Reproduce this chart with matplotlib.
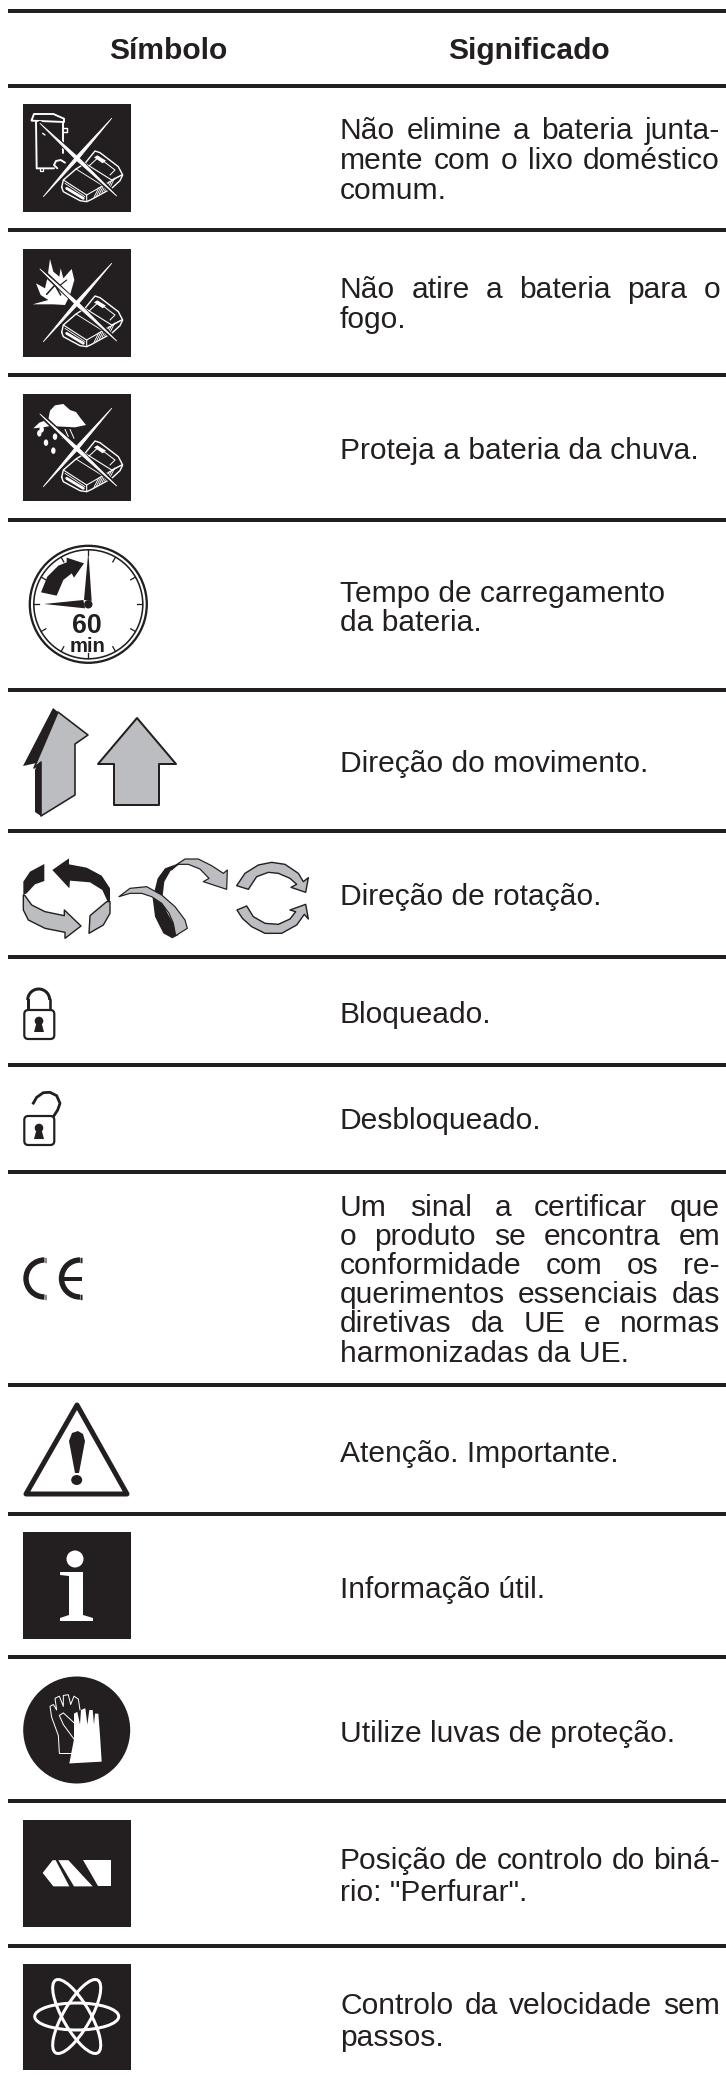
import matplotlib
matplotlib.use("Agg")
import matplotlib.pyplot as plt
from matplotlib.patches import Polygon, Ellipse, Arc, Rectangle, FancyBboxPatch, Circle

# table of symbols from a battery tool manual, everything drawn in pixel coords
INK = "#231f20"
GREY = "#bcbdc0"
PX = 0.72  # px to pt at dpi 100

headers = ["Símbolo", "Significado"]
symbols = ["no_trash", "no_fire", "no_rain", "clock", "arrows", "rotation", "locked",
           "unlocked", "ce", "warning", "info", "gloves", "drill", "speed"]
meanings = [
    ["Não elimine a bateria junta-", "mente com o lixo doméstico", "comum."],
    ["Não atire a bateria para o", "fogo."],
    ["Proteja a bateria da chuva."],
    ["Tempo de carregamento", "da bateria."],
    ["Direção do movimento."],
    ["Direção de rotação."],
    ["Bloqueado."],
    ["Desbloqueado."],
    ["Um sinal a certificar que", "o produto se encontra em", "conformidade com os re-",
     "querimentos essenciais das", "diretivas da UE e normas", "harmonizadas da UE."],
    ["Atenção. Importante."],
    ["Informação útil."],
    ["Utilize luvas de proteção."],
    ["Posição de controlo do biná-", "rio: \"Perfurar\"."],
    ["Controlo da velocidade sem", "passos."],
]
# which lines are set justified, by (row, line)
justified = {(0, 0), (0, 1), (1, 0), (8, 0), (8, 1), (8, 2), (8, 3), (8, 4), (12, 0), (13, 0)}

# layout
rule_y = [11, 86, 230, 375, 520, 690, 831, 957, 1065, 1172, 1385, 1514, 1657, 1801, 1946]
baselines = [[139, 169, 199], [298, 328], [459], [602, 631], [772], [905], [1023], [1129],
             [1216, 1245, 1274, 1303, 1332, 1362], [1462], [1598], [1742], [1869, 1901], [2014, 2046]]
text_left, text_right = 340, 720
font = "Liberation Sans"
body_size = 21.6

fig = plt.figure(figsize=(7.26, 20.83), dpi=100)
ax = fig.add_axes([0, 0, 1, 1])
ax.set_xlim(0, 726)
ax.set_ylim(2083, 0)
ax.axis("off")
renderer = fig.canvas.get_renderer()


def poly(pts, x0=0, y0=0, sx=1 / 3, sy=1 / 3, fc=INK, ec="none", lw=0, z=3, closed=True):
    pp = [(x0 + x * sx, y0 + y * sy) for x, y in pts]
    ax.add_patch(Polygon(pp, closed=closed, facecolor=fc, edgecolor=ec, linewidth=lw * PX,
                         joinstyle="round", zorder=z))


def stroke(pts, x0=0, y0=0, sx=1 / 3, sy=1 / 3, c="white", lw=1.0, z=4, cap="round"):
    xs = [x0 + p[0] * sx for p in pts]
    ys = [y0 + p[1] * sy for p in pts]
    ax.plot(xs, ys, color=c, lw=lw * PX, solid_capstyle=cap, solid_joinstyle="round", zorder=z)


def box(top, bottom):
    ax.add_patch(Rectangle((23, top), 108, bottom - top, facecolor=INK, edgecolor="none", zorder=2))


def battery(x0, y0):
    outer = [(125, 262), (130, 240), (168, 207), (195, 190), (225, 153), (240, 158), (295, 200),
             (308, 225), (300, 242), (275, 265), (215, 298), (200, 305), (180, 302), (130, 275)]
    stroke(outer + outer[:1], x0, y0, lw=1.4, z=4)
    stroke([(130, 240), (200, 285), (200, 305)], x0, y0, lw=1.1)
    stroke([(135, 250), (195, 290)], x0, y0, lw=0.8)
    stroke([(200, 285), (305, 225)], x0, y0, lw=1.1)
    stroke([(195, 190), (275, 240), (305, 225)], x0, y0, lw=1.1)
    stroke([(205, 200), (235, 172), (285, 210), (270, 225)], x0, y0, lw=1.0)
    stroke([(168, 207), (245, 255)], x0, y0, lw=0.9)
    poly([(222, 172), (232, 166), (258, 182), (248, 190)], x0, y0, fc="white", z=4)
    stroke([(140, 265), (190, 295)], x0, y0, lw=2.8)
    for k in range(7):
        stroke([(222 + k * 8, 292 - k * 5), (236 + k * 8, 264 - k * 5)], x0, y0, lw=0.9)


def cross(x0, y0, a, b):
    # x strokes taper to a point at the ends, with a dark edge around them
    for (x1, y1), (x2, y2) in (a, b):
        mx, my = (x1 + x2) / 2, (y1 + y2) / 2
        ln = ((x2 - x1) ** 2 + (y2 - y1) ** 2) ** 0.5
        nx, ny = -(y2 - y1) / ln, (x2 - x1) / ln
        w = 5.0
        stroke([(x1, y1), (x2, y2)], x0, y0, c=INK, lw=5.0, z=5)
        poly([(x1, y1), (mx + nx * w, my + ny * w), (x2, y2), (mx - nx * w, my - ny * w)],
             x0, y0, fc="white", ec="white", lw=0.8, z=6)


def no_trash():
    x0, y0 = 20, 100
    box(104, 212)
    battery(x0, y0)
    stroke([(35, 60), (42, 42), (100, 42), (132, 56), (132, 66), (35, 62), (35, 60)], x0, y0, lw=1.9)
    stroke([(48, 65), (50, 205), (102, 205)], x0, y0, lw=1.9)
    stroke([(130, 66), (130, 158)], x0, y0, lw=1.9)
    stroke([(130, 85), (142, 85), (142, 97), (130, 97)], x0, y0, lw=1.4)
    stroke([(112, 205), (102, 195), (108, 183), (122, 180), (135, 188)], x0, y0, lw=1.9)
    stroke([(60, 205), (60, 213), (68, 213), (68, 205)], x0, y0, lw=1.2)
    stroke([(68, 100), (75, 105)], x0, y0, lw=1.4)
    cross(x0, y0, [(275, 55), (70, 290)], [(60, 70), (290, 288)])


def no_fire():
    x0, y0 = 20, 245
    box(249, 357)
    battery(x0, y0)
    flame = [(38, 178), (85, 165), (62, 150), (48, 115), (75, 130), (82, 100), (90, 42), (100, 80), (118, 95),
             (122, 70), (130, 100), (155, 72), (163, 105), (150, 150), (135, 180), (100, 178)]
    poly(flame, x0, y0, fc="white", z=3)
    stroke([(80, 148), (105, 120), (122, 150)], x0, y0, c=INK, lw=1.6)
    stroke([(115, 125), (140, 105)], x0, y0, c=INK, lw=1.2)
    cross(x0, y0, [(275, 55), (70, 290)], [(60, 72), (290, 288)])


def no_rain():
    x0, y0 = 20, 390
    box(394, 501)
    battery(x0, y0)
    cloud = [(40, 115), (58, 98), (85, 88), (90, 62), (105, 46), (130, 42), (150, 60), (168, 66),
             (182, 85), (198, 105), (165, 112), (90, 108), (70, 112)]
    poly(cloud, x0, y0, fc="white", z=3)
    for dx, dy in [(58, 130), (78, 158), (100, 182), (65, 118), (105, 140)]:
        ax.add_patch(Ellipse((x0 + dx / 3, y0 + dy / 3), 3, 5, color="white", zorder=4))
    for a, b in [((135, 118), (145, 140)), ((150, 118), (162, 145)), ((120, 125), (128, 145))]:
        stroke([a, b], x0, y0, lw=1)
    cross(x0, y0, [(275, 55), (70, 290)], [(60, 72), (290, 288)])


def clock():
    cx, cy = 88.3, 604.3
    ax.add_patch(Circle((cx, cy), 58.5, fc="none", ec=INK, lw=2.3 * PX, zorder=3))
    ax.add_patch(Circle((cx, cy), 54.5, fc="none", ec=INK, lw=1.6 * PX, zorder=3))
    ticks = [(0, -1), (.5, -.866), (.866, -.5), (1, 0), (.866, .5), (.5, .866),
             (0, 1), (-.5, .866), (-.866, .5), (-1, 0), (-.866, -.5), (-.5, -.866)]
    for tx, ty in ticks:
        ax.plot([cx + 54 * tx, cx + 49 * tx], [cy + 54 * ty, cy + 49 * ty], color=INK, lw=1.3 * PX, zorder=3)
    x0, y0 = 20, 535
    poly([(205, 50), (215, 198), (192, 195)], x0, y0)
    poly([(72, 207), (190, 195), (195, 220)], x0, y0)
    ax.add_patch(Circle((cx, cy), 4.2, fc=INK, ec="none", zorder=4))
    poly([(63, 172), (82, 125), (115, 92), (140, 82), (140, 68), (192, 85), (162, 128), (155, 115),
          (130, 135), (110, 182)], x0, y0)
    ax.text(cx - 1, 633, "60", ha="center", va="baseline", fontsize=19.3, fontweight="bold",
            family=font, color=INK, zorder=5)
    ax.text(cx - 1, 652, "min", ha="center", va="baseline", fontsize=14.6, fontweight="bold",
            family=font, color=INK, zorder=5)


def arrows():
    poly([(23, 766), (53, 708), (58, 712), (35, 770), (35, 812), (41, 816), (41, 762)], sx=1, sy=1)
    poly([(58, 712), (88, 735), (75, 744), (75, 795), (41, 816), (41, 762), (34, 768)],
         sx=1, sy=1, fc=GREY, ec=INK, lw=1.6)
    poly([(137, 718), (176, 764), (159, 764), (159, 805), (114, 805), (114, 764), (98, 764)],
         sx=1, sy=1, fc=GREY, ec=INK, lw=2)


def rotation():
    kw = dict(x0=15, y0=845)
    poly([(112, 75), (162, 40), (162, 58), (215, 68), (260, 92), (285, 130), (285, 170), (278, 170),
          (262, 135), (225, 112), (165, 107), (163, 130)], **kw)
    poly([(88, 57), (88, 108), (60, 118), (35, 145), (25, 150), (25, 110), (45, 80)], **kw)
    poly([(30, 152), (50, 180), (90, 200), (148, 212), (148, 195), (198, 243), (150, 280), (150, 262),
          (90, 250), (40, 225), (25, 195), (25, 150)], fc=GREY, ec=INK, lw=1.4, **kw)
    poly([(225, 212), (275, 170), (285, 170), (285, 205), (265, 240), (222, 265)], fc=GREY, ec=INK, lw=1.4, **kw)
    poly([(482, 58), (450, 70), (428, 100), (413, 160), (420, 215), (445, 265), (472, 280), (490, 270),
          (475, 235), (455, 200), (442, 160), (448, 110), (468, 75)], **kw)
    poly([(312, 155), (345, 130), (395, 125), (440, 150), (480, 185), (510, 225), (517, 250), (482, 272),
          (475, 235), (462, 205), (440, 175), (410, 155), (380, 145), (345, 145)], fc=GREY, ec=INK, lw=1.2, **kw)
    poly([(480, 62), (510, 42), (550, 42), (590, 62), (625, 85), (637, 75), (635, 133), (565, 110), (582, 100),
          (555, 72), (520, 58), (490, 58), (468, 75)], fc=GREY, ec=INK, lw=1.2, **kw)
    poly([(665, 122), (690, 85), (730, 60), (770, 52), (810, 58), (850, 85), (865, 110), (880, 98), (872, 142),
          (828, 127), (845, 118), (825, 100), (790, 85), (760, 82), (725, 95), (700, 133)],
         fc=GREY, ec=INK, lw=1.4, **kw)
    poly([(666, 195), (695, 183), (715, 215), (750, 235), (790, 238), (825, 222), (842, 200), (825, 195),
          (872, 178), (880, 222), (868, 208), (845, 240), (800, 265), (750, 265), (710, 245), (682, 220)],
         fc=GREY, ec=INK, lw=1.4, **kw)


def keyhole(cx, cy, bottom):
    ax.add_patch(Circle((cx, cy), 4.3, fc=INK, ec="none", zorder=4))
    poly([(cx - 2, cy), (cx + 2, cy), (cx + 5, bottom), (cx - 5, bottom)], sx=1, sy=1, z=4)


def lock_body(top, bottom):
    ax.add_patch(FancyBboxPatch((24.3, top + 1), 30, bottom - top - 2, boxstyle="round,pad=0,rounding_size=4",
                                fc="white", ec=INK, lw=2.2 * PX, zorder=3))


def locked():
    ax.plot([27.7, 27.7], [1010, 1000], color=INK, lw=3.0 * PX, zorder=3)
    ax.plot([49.7, 49.7], [1010, 1000], color=INK, lw=2.6 * PX, zorder=3)
    ax.add_patch(Arc((38.7, 1000), 22, 22, theta1=180, theta2=360, ec=INK, lw=3.0 * PX, zorder=3))
    lock_body(1009, 1040)
    keyhole(39, 1021, 1032)


def unlocked():
    stroke([(53, 388), (65, 367), (85, 353), (105, 352), (125, 362), (135, 385), (128, 405), (115, 425)],
           15, 975, c=INK, lw=2.8, z=3, cap="butt")
    lock_body(1115, 1146)
    keyhole(39, 1128, 1139)


def ce():
    top, bottom = 1260, 1297
    for cx, end in [(44.5, 46), (80, 82)]:
        ax.add_patch(Arc((cx, 1278.5), 37, 37, theta1=90, theta2=270, ec=INK, lw=5.4 * PX, zorder=3))
        ax.plot([cx, end], [top, top], color=INK, lw=5.4 * PX, zorder=3, solid_capstyle="butt")
        ax.plot([cx, end], [bottom, bottom], color=INK, lw=5.4 * PX, zorder=3, solid_capstyle="butt")
    ax.plot([62, 82], [1278.5, 1278.5], color=INK, lw=4 * PX, zorder=3, solid_capstyle="butt")


def warning():
    poly([(77, 1405), (127, 1494), (26, 1494)], sx=1, sy=1, fc="white", ec=INK, lw=5, z=3)
    poly([(69, 1441), (72, 1433), (78, 1431), (83, 1434), (85, 1441), (79, 1473), (75, 1473)], sx=1, sy=1, z=4)
    ax.add_patch(Ellipse((76.7, 1480), 11, 10, fc=INK, ec="none", zorder=4))


def info():
    box(1532, 1639)
    ax.add_patch(Ellipse((75, 1559), 17, 17, fc="white", ec="none", zorder=4))
    poly([(60, 1572), (83, 1572), (83, 1615), (93, 1618), (93, 1621), (60, 1621), (60, 1618),
          (69, 1615), (69, 1576), (60, 1575)], sx=1, sy=1, fc="white", z=4)


def gloves():
    ax.add_patch(Ellipse((76.7, 1730), 107, 107, fc=INK, ec="none", zorder=2))
    x0, y0 = 0, 1510
    sy = 1 / 2.75
    outline = [(178, 668), (175, 620), (155, 570), (150, 540), (160, 535), (170, 550), (165, 518), (178, 512),
               (190, 540), (190, 510), (205, 508), (212, 535), (222, 512), (235, 520), (240, 550)]
    stroke(outline, x0, y0, sy=sy, lw=1)
    stroke([(178, 668), (215, 668)], x0, y0, sy=sy, lw=1)
    stroke([(222, 630), (190, 590), (178, 565), (190, 558), (222, 585)], x0, y0, sy=sy, lw=1)
    white = [(208, 697), (222, 630), (222, 560), (232, 555), (240, 590), (243, 550), (256, 545), (262, 590),
             (268, 550), (278, 550), (282, 590), (285, 560), (295, 560), (300, 620), (305, 692)]
    poly(white, x0, y0, sy=sy, fc="white", z=4)


def drill():
    box(1820, 1927)
    sy = 1 / 2.75
    poly([(128, 998), (158, 963), (167, 963), (208, 1035), (160, 1035)], 0, 1510, sy=sy, fc="white", z=4)
    poly([(175, 963), (205, 963), (278, 1035), (222, 1035)], 0, 1510, sy=sy, fc="white", z=4)
    poly([(250, 963), (333, 963), (333, 1035), (295, 1035)], 0, 1510, sy=sy, fc="white", z=4)


def speed():
    box(1964, 2070)
    for ang in [0, 60, 120]:
        ax.add_patch(Ellipse((76.7, 2016.5), 84, 27, angle=ang, fc="none", ec="white", lw=3 * PX, zorder=4))


icon_funcs = dict(no_trash=no_trash, no_fire=no_fire, no_rain=no_rain, clock=clock, arrows=arrows,
                  rotation=rotation, locked=locked, unlocked=unlocked, ce=ce, warning=warning,
                  info=info, gloves=gloves, drill=drill, speed=speed)


def put_line(s, base, justify):
    if not justify:
        ax.text(text_left, base, s, fontsize=body_size, family=font, color=INK, va="baseline", ha="left")
        return
    words = s.split(" ")
    items = [ax.text(text_left, base, w, fontsize=body_size, family=font, color=INK, va="baseline", ha="left")
             for w in words]
    widths = [t.get_window_extent(renderer).width for t in items]
    gap = (text_right - text_left - sum(widths)) / (len(words) - 1)
    x = text_left
    for t, w in zip(items, widths):
        t.set_x(x)
        x += w + gap


for y in rule_y:
    ax.plot([8, 726], [y, y], color=INK, lw=4 * PX, solid_capstyle="butt", zorder=1)

ax.text(168, 59, headers[0], ha="center", va="baseline", fontsize=21.6, fontweight="bold", family=font, color=INK)
ax.text(529, 59, headers[1], ha="center", va="baseline", fontsize=21.6, fontweight="bold", family=font, color=INK)

for r, (sym, lines) in enumerate(zip(symbols, meanings)):
    icon_funcs[sym]()
    for i, s in enumerate(lines):
        put_line(s, baselines[r][i], (r, i) in justified)

fig.savefig("out.png", dpi=100)
